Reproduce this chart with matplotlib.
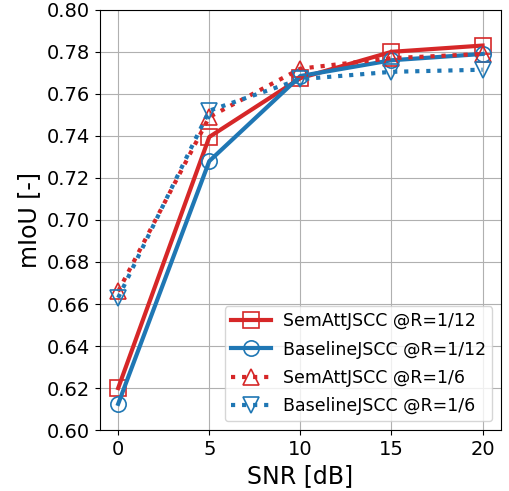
import matplotlib
matplotlib.use('Agg')
import matplotlib.pyplot as plt

snr = [0, 5, 10, 15, 20]

sematt_r12 = [0.620, 0.7395, 0.7675, 0.780, 0.783]
baseline_r12 = [0.6125, 0.728, 0.7685, 0.776, 0.779]
sematt_r6 = [0.666, 0.749, 0.772, 0.777, 0.779]
baseline_r6 = [0.663, 0.752, 0.767, 0.7705, 0.7715]

labels = ['SemAttJSCC @R=1/12', 'BaselineJSCC @R=1/12',
          'SemAttJSCC @R=1/6', 'BaselineJSCC @R=1/6']

red = '#d62728'
blue = '#1f77b4'

fig = plt.figure(figsize=(5.1, 4.91), dpi=100)
ax = fig.add_axes([0.196, 0.124, 0.786, 0.856])

ax.plot(snr, sematt_r12, '-', color=red, lw=3, marker='s', ms=11,
        mfc='none', mew=1.2, label=labels[0])
ax.plot(snr, baseline_r12, '-', color=blue, lw=3, marker='o', ms=11,
        mfc='none', mew=1.2, label=labels[1])
ax.plot(snr, sematt_r6, ':', color=red, lw=3, marker='^', ms=11,
        mfc='none', mew=1.2, label=labels[2])
ax.plot(snr, baseline_r6, ':', color=blue, lw=3, marker='v', ms=11,
        mfc='none', mew=1.2, label=labels[3])

ax.set_xlim(-1, 21)
ax.set_ylim(0.60, 0.80)
ax.set_xticks(snr)
ax.set_yticks([0.60 + 0.02 * i for i in range(11)])
ax.yaxis.set_major_formatter(plt.FormatStrFormatter('%.2f'))
ax.tick_params(labelsize=14)
ax.grid(True, color='#b0b0b0', lw=0.8)

ax.set_xlabel('SNR [dB]', fontsize=17)
ax.set_ylabel('mIoU [-]', fontsize=17)

ax.legend(loc='lower right', fontsize=12.5, handlelength=2.3,
          handletextpad=0.7, labelspacing=0.6, borderpad=0.35)

fig.savefig('out.png', dpi=100)
